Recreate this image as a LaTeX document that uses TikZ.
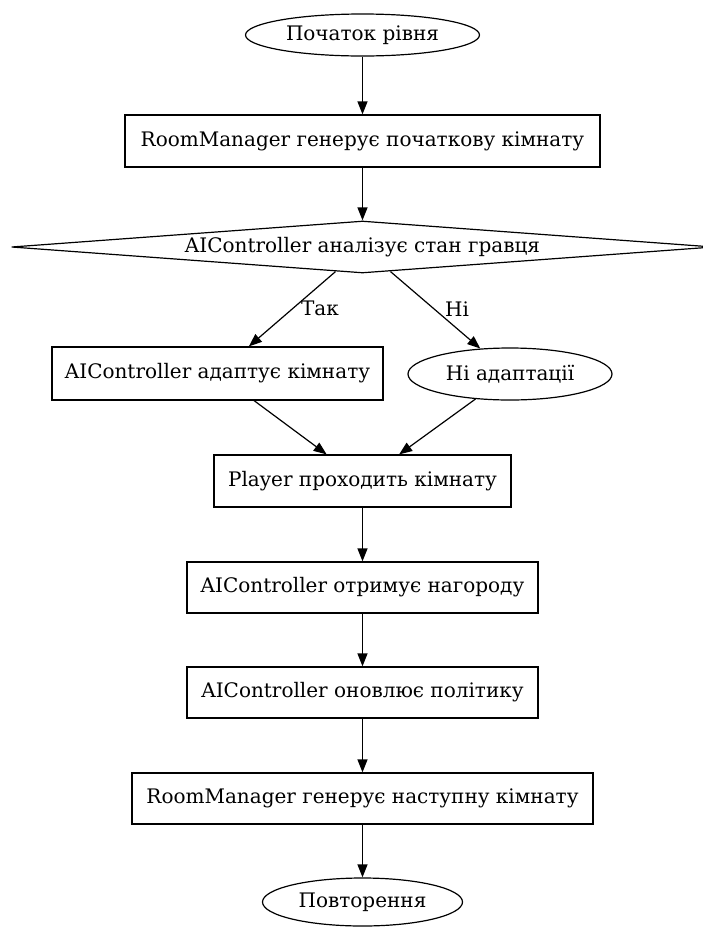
\documentclass[tikz,border=0pt]{standalone}
\usepackage{fontspec}
\setmainfont{DejaVu Serif}
\usetikzlibrary{shapes.geometric,arrows.meta,calc}

\tikzset{
  base/.style={draw=black, line width=1.2pt, inner sep=0pt, font=\fontsize{20}{24}\selectfont, fill=white},
  procbox/.style={base, rectangle},
  terminal/.style={base, ellipse},
  decision/.style={base, diamond, shape aspect=13.5},
  arr/.style={line width=1.2pt, -{Triangle[length=13pt,width=10pt]}},
  edgelabel/.style={font=\fontsize{20}{24}\selectfont, inner sep=0pt}
}

\begin{document}
\begin{tikzpicture}[x=1pt,y=-1pt]
\useasboundingbox (0,0) rectangle (703,927);

% nodes, top to bottom
\node[terminal, minimum width=234pt, minimum height=42pt] (start) at (362.5,35) {Початок рівня};
\node[procbox, minimum width=475pt, minimum height=52pt] (room1) at (362.5,141) {RoomManager генерує початкову кімнату};
\node[decision, minimum width=702pt, minimum height=52pt] (check) at (362.5,247) {AIController аналізує стан гравця};
\node[procbox, minimum width=331pt, minimum height=53pt] (adapt) at (217.5,373.5) {AIController адаптує кімнату};
\node[terminal, minimum width=204pt, minimum height=52pt] (noadapt) at (510,374) {Ні адаптації};
\node[procbox, minimum width=297pt, minimum height=52pt] (player) at (362.5,481) {Player проходить кімнату};
\node[procbox, minimum width=351pt, minimum height=51pt] (reward) at (362.5,587.5) {AIController отримує нагороду};
\node[procbox, minimum width=351pt, minimum height=51pt] (policy) at (362.5,692.5) {AIController оновлює політику};
\node[procbox, minimum width=461pt, minimum height=51pt] (room2) at (362.5,798.5) {RoomManager генерує наступну кімнату};
\node[terminal, minimum width=200pt, minimum height=48pt] (again) at (362.5,902) {Повторення};

% connectors
\draw[arr] (start) -- (room1);
\draw[arr] (room1) -- (check);
\draw[arr] ($(check.south)+(-27,-2)$) -- (adapt);
\draw[arr] ($(check.south)+(28,-2)$) -- (noadapt);
\draw[arr] (adapt) -- (player);
\draw[arr] (noadapt) -- (player);
\draw[arr] (player) -- (reward);
\draw[arr] (reward) -- (policy);
\draw[arr] (policy) -- (room2);
\draw[arr] (room2) -- (again);

% branch labels
\node[edgelabel] (yes) at (320,308) {Так};
\node[edgelabel] (no) at (457,309) {Ні};
\end{tikzpicture}
\end{document}
